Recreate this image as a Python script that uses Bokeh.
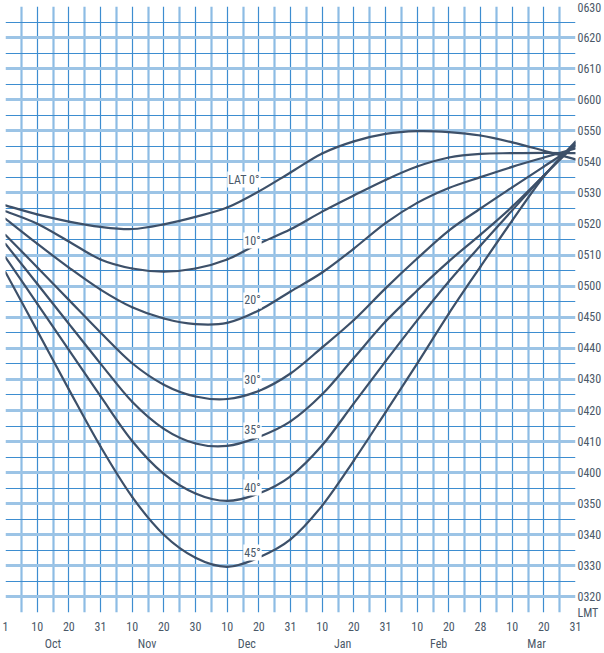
from bokeh.plotting import figure
from bokeh.models import FixedTicker, LinearAxis, Range1d, ColumnDataSource
from bokeh.core.properties import value
from bokeh.embed import file_html
from bokeh.resources import INLINE

# ---------------- data ----------------
day_labels = ["1", "10", "20", "31", "10", "20", "30", "10", "20", "31",
              "10", "20", "31", "10", "20", "28", "10", "20", "31"]
month_names = ["Oct", "Nov", "Dec", "Jan", "Feb", "Mar"]
y_tick_labels = ["0320", "0330", "0340", "0350", "0400", "0410", "0420", "0430",
                 "0440", "0450", "0500", "0510", "0520", "0530", "0540", "0550",
                 "0600", "0610", "0620", "0630"]
lat_names = ["LAT 0°", "10°", "20°", "30°", "35°", "40°", "45°"]

# times in minutes after midnight (LMT), one value per date tick above
lat0 = [326.0, 323.1, 320.8, 319.1, 318.4, 319.9, 322.3, 325.3, 330.5, 336.6,
        342.7, 346.6, 349.0, 349.9, 349.6, 348.5, 346.3, 343.6, 340.8]
lat10 = [324.1, 320.1, 314.4, 308.6, 305.7, 304.7, 305.7, 308.6, 313.7, 318.3,
         324.0, 329.2, 334.2, 338.5, 341.4, 342.6, 342.8, 342.9, 342.8]
lat20 = [321.7, 313.7, 306.0, 298.9, 293.2, 289.6, 287.8, 288.2, 292.2, 298.3,
         304.4, 312.1, 320.3, 326.8, 331.6, 335.1, 338.4, 341.4, 344.3]
lat30 = [316.5, 306.1, 295.6, 285.1, 275.2, 268.3, 264.5, 263.7, 266.3, 271.9,
         280.3, 289.1, 299.3, 308.9, 317.9, 325.0, 331.8, 338.5, 345.1]
lat35 = [313.6, 300.8, 287.9, 275.1, 262.8, 254.1, 249.4, 248.6, 251.5, 256.5,
         265.2, 276.9, 288.6, 298.6, 308.0, 316.6, 325.6, 335.6, 345.6]
lat40 = [309.3, 294.4, 279.5, 264.6, 250.2, 239.6, 233.3, 230.9, 233.3, 238.8,
         248.8, 262.3, 275.8, 289.0, 301.5, 313.1, 324.4, 335.6, 346.1]
lat45 = [304.5, 285.7, 266.8, 248.4, 232.2, 220.0, 212.6, 209.7, 212.7, 218.5,
         229.4, 243.9, 259.4, 275.1, 291.2, 306.3, 321.1, 335.3, 346.6]

series = [lat0, lat10, lat20, lat30, lat35, lat40, lat45]

# ---------------- styling ----------------
FONT = "'Liberation Sans Narrow', 'Roboto Condensed', 'Arial Narrow', Roboto, sans-serif"
TXT = "#4a5868"
CURVE = "#3d5069"
LIGHT = "#9cc4e6"
DARK = "#3d8dd0"


def hhmm_to_min(s):
    return int(s[:2]) * 60 + int(s[2:])


y_ticks = [hhmm_to_min(s) for s in y_tick_labels]
y_min = y_ticks[0] - 5
y_max = y_ticks[-1]
n = len(day_labels)
x_idx = list(range(n))

p = figure(width=604, height=653,
           x_range=Range1d(0, n - 1), y_range=Range1d(y_min, y_max),
           output_backend="svg", toolbar_location=None,
           y_axis_location="right",
           min_border_left=5, min_border_right=0,
           min_border_top=6, min_border_bottom=0)
p.outline_line_color = None
p.background_fill_color = "white"
p.border_fill_color = "white"

# grids
p.xgrid.ticker = FixedTicker(ticks=x_idx, minor_ticks=[i + 0.5 for i in range(n - 1)])
p.xgrid.grid_line_color = DARK
p.xgrid.grid_line_width = 1.2
p.xgrid.minor_grid_line_color = "#8dbce4"
p.xgrid.minor_grid_line_width = 2.2

p.ygrid.ticker = FixedTicker(ticks=y_ticks, minor_ticks=[t - 5 for t in y_ticks])
p.ygrid.grid_line_color = LIGHT
p.ygrid.grid_line_width = 3
p.ygrid.minor_grid_line_color = DARK
p.ygrid.minor_grid_line_width = 1.2

# axes
xa = p.xaxis[0]
xa.ticker = FixedTicker(ticks=x_idx)
xa.major_label_overrides = {i: day_labels[i] for i in x_idx}

month_pos = [1.5, 4.47, 7.62, 10.65, 13.68, 16.77]
ma = LinearAxis(ticker=FixedTicker(ticks=month_pos),
                major_label_overrides={mp: nm for mp, nm in zip(month_pos, month_names)})
p.add_layout(ma, "below")

ya = p.yaxis[0]
ya.ticker = FixedTicker(ticks=[y_min] + y_ticks)
ov = {t: s for t, s in zip(y_ticks, y_tick_labels)}
ov[y_min] = "LMT"
ya.major_label_overrides = ov

for ax in [xa, ma, ya]:
    ax.axis_line_color = None
    ax.major_tick_line_color = None
    ax.minor_tick_line_color = None
    ax.major_tick_out = 0
    ax.major_tick_in = 0
    ax.major_label_text_font = FONT
    ax.major_label_text_font_size = "12px"
    ax.major_label_text_color = TXT
xa.major_label_standoff = 9
ma.major_label_standoff = 3
ya.major_label_standoff = 2


# smooth curves through the read values (Catmull-Rom -> cubic Bezier)
def bezier_segments(xs, ys):
    m = len(xs)
    P = list(zip(xs, ys))
    out = {k: [] for k in ["x0", "y0", "x1", "y1", "cx0", "cy0", "cx1", "cy1"]}
    for i in range(m - 1):
        p0 = P[i - 1] if i > 0 else P[i]
        p1 = P[i]
        p2 = P[i + 1]
        p3 = P[i + 2] if i + 2 < m else P[i + 1]
        out["x0"].append(p1[0]); out["y0"].append(p1[1])
        out["x1"].append(p2[0]); out["y1"].append(p2[1])
        out["cx0"].append(p1[0] + (p2[0] - p0[0]) / 6)
        out["cy0"].append(p1[1] + (p2[1] - p0[1]) / 6)
        out["cx1"].append(p2[0] - (p3[0] - p1[0]) / 6)
        out["cy1"].append(p2[1] - (p3[1] - p1[1]) / 6)
    return out


for s in series:
    src = ColumnDataSource(bezier_segments(x_idx, s))
    p.bezier(x0="x0", y0="y0", x1="x1", y1="y1", cx0="cx0", cy0="cy0",
             cx1="cx1", cy1="cy1", source=src, line_color=CURVE,
             line_width=2.2, line_cap="round")

# latitude labels
lab_x = [7.53, 7.8, 7.8, 7.8, 7.8, 7.8, 7.8]
lab_y = [334.3, 314.7, 295.4, 269.7, 253.6, 235.2, 214.3]
lsrc = ColumnDataSource(dict(x=lab_x, y=lab_y, t=lat_names))
p.text(x="x", y="y", text="t", source=lsrc, text_font=value(FONT),
       text_font_size="12px", text_color=TXT, text_align="center",
       text_baseline="middle", background_fill_color="white",
       padding=1)

open("out.html", "w").write(file_html(p, INLINE))
